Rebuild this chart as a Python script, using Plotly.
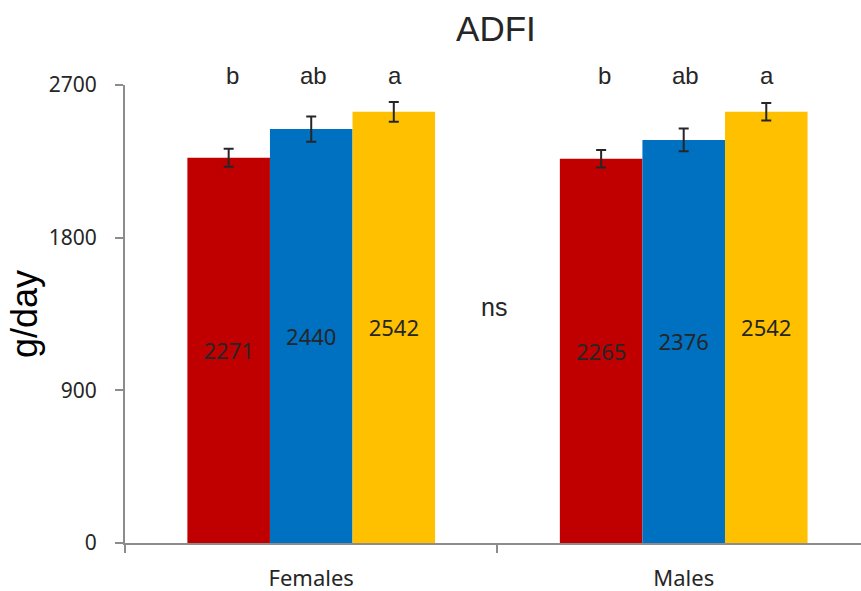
import plotly.graph_objects as go

categories = ["Females", "Males"]
series_names = ["T1", "T2", "T3"]
colors = ["#C00000", "#0070C0", "#FFC000"]
values = [[2271, 2265], [2440, 2376], [2542, 2542]]
errors = [[53, 52], [74, 67], [58, 52]]
letters = [["b", "b"], ["ab", "ab"], ["a", "a"]]

fig = go.Figure()
for i in range(3):
    fig.add_trace(go.Bar(
        x=categories, y=values[i], name=series_names[i],
        marker=dict(color=colors[i], line=dict(width=0)),
        error_y=dict(type="data", array=errors[i], color="#262626", thickness=2, width=5),
        text=[str(v) for v in values[i]], textposition="inside",
        insidetextanchor="middle",
        textfont=dict(family="Noto Sans", size=22, color="#262626"),
        showlegend=False,
    ))

# significance letters above bars
offsets = [-1, 0, 1]
for i in range(3):
    for j, c in enumerate(categories):
        fig.add_annotation(x=j + offsets[i] * 0.218 + 0.006, y=1.02, xref="x", yref="paper",
                           text=letters[i][j], showarrow=False,
                           font=dict(family="Liberation Sans", size=24, color="#262626"),
                           yanchor="middle")

fig.add_annotation(x=0.49, y=1390, xref="x", yref="y", text="ns", showarrow=False,
                   font=dict(family="Liberation Sans", size=25, color="#262626"))

fig.update_layout(
    width=861, height=591,
    margin=dict(l=125, r=0, t=85, b=48),
    paper_bgcolor="white", plot_bgcolor="white",
    barmode="group", bargap=0.335, bargroupgap=0,
    title=dict(text="ADFI", x=0.576, xanchor="center", y=0.952, yanchor="middle",
               font=dict(family="Liberation Sans", size=35, color="#262626")),
    xaxis=dict(range=[-0.5, 1.476],
               showline=True, linecolor="#8C8C8C", linewidth=2,
               ticks="outside", tickson="boundaries", ticklen=8, tickcolor="#8C8C8C",
               tickwidth=2, ticklabelstandoff=15,
               tickfont=dict(family="Noto Sans", size=22, color="#262626")),
    yaxis=dict(range=[0, 2700], tickvals=[0, 900, 1800, 2700],
               showline=True, linecolor="#8C8C8C", linewidth=2,
               ticks="outside", ticklen=8, tickcolor="#8C8C8C", tickwidth=2,
               ticklabelstandoff=14,
               showgrid=False, zeroline=False,
               tickfont=dict(family="Noto Sans", size=21, color="#262626"),
               title=dict(text="g/day", standoff=0,
                          font=dict(family="Liberation Sans", size=36, color="#000000"))),
)

fig.write_html("out.html")
